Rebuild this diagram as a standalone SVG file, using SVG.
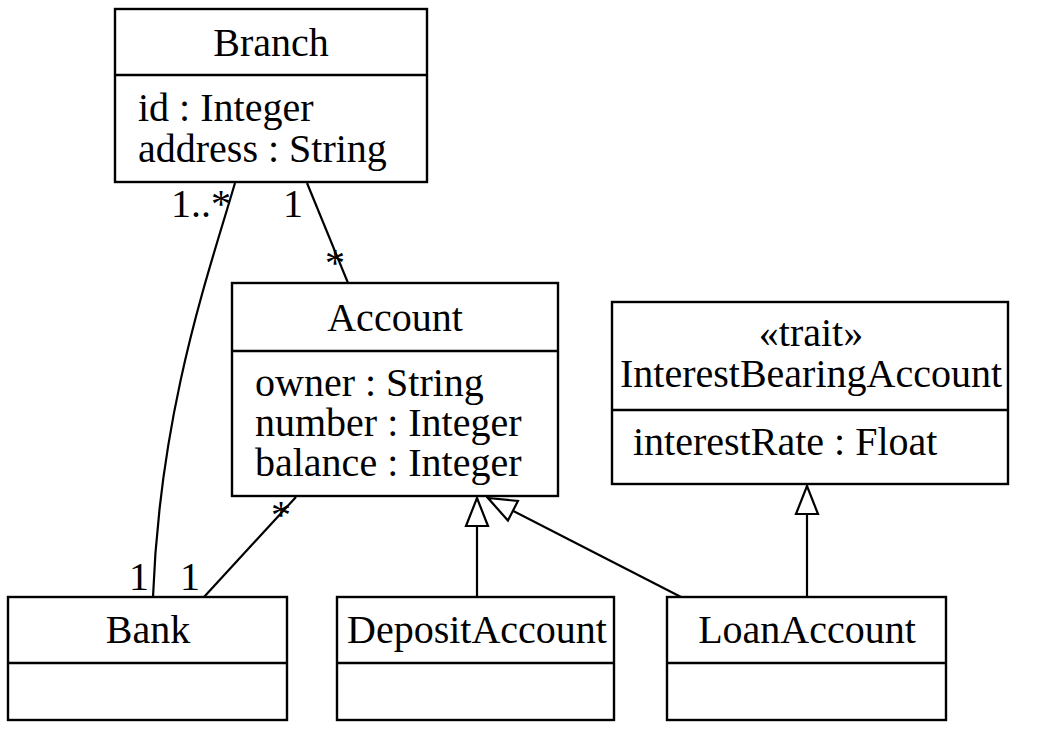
<svg xmlns="http://www.w3.org/2000/svg" width="1039" height="731" viewBox="0 0 1039 731">
<style>
text{font-family:"Liberation Serif","Times New Roman",serif;font-size:40px;fill:#000}
.c{text-anchor:middle}
.box{fill:#fff;stroke:#000;stroke-width:2.4}
.div{stroke:#000;stroke-width:2.4}
.edge{fill:none;stroke:#000;stroke-width:2.2}
</style>
<defs>
<marker id="gen" markerUnits="userSpaceOnUse" viewBox="-2 -2 32 26" markerWidth="32" markerHeight="26" refX="28" refY="11" orient="auto">
<path d="M0,0 L28,11 L0,22 Z" fill="#fff" stroke="#000" stroke-width="2.2"/>
</marker>
</defs>
<rect width="1039" height="731" fill="#fff"/>
<g id="Branch">
<rect class="box" x="115" y="9" width="312" height="173"/>
<line class="div" x1="115" y1="75" x2="427" y2="75"/>
<text class="c" x="271" y="56">Branch</text>
<text x="138" y="121">id : Integer</text>
<text x="138" y="162">address : String</text>
</g>
<g id="Account">
<rect class="box" x="232" y="283" width="326" height="213"/>
<line class="div" x1="232" y1="351" x2="558" y2="351"/>
<text class="c" x="395" y="331">Account</text>
<text x="255" y="396">owner : String</text>
<text x="255" y="436">number : Integer</text>
<text x="255" y="476">balance : Integer</text>
</g>
<g id="InterestBearingAccount">
<rect class="box" x="612" y="302" width="396" height="182"/>
<line class="div" x1="612" y1="410" x2="1008" y2="410"/>
<text class="c" x="811" y="346">«trait»</text>
<text class="c" x="811" y="387">InterestBearingAccount</text>
<text x="633" y="455">interestRate : Float</text>
</g>
<g id="Bank">
<rect class="box" x="8" y="597" width="279" height="123"/>
<line class="div" x1="8" y1="663" x2="287" y2="663"/>
<text class="c" x="148" y="643">Bank</text>
</g>
<g id="DepositAccount">
<rect class="box" x="337" y="597" width="277" height="123"/>
<line class="div" x1="337" y1="663" x2="614" y2="663"/>
<text class="c" x="477" y="643">DepositAccount</text>
</g>
<g id="LoanAccount">
<rect class="box" x="667" y="597" width="279" height="123"/>
<line class="div" x1="667" y1="663" x2="946" y2="663"/>
<text class="c" x="807" y="643">LoanAccount</text>
</g>
<g id="connectors">
<path class="edge" d="M235,183 C208,275 160,410 153,597"/>
<text x="171" y="217">1..*</text>
<text x="129" y="590">1</text>
<path class="edge" d="M307,183 L348,283"/>
<text x="283" y="217">1</text>
<text x="325" y="276">*</text>
<path class="edge" d="M296,497 L204,597"/>
<text x="271" y="528">*</text>
<text x="180" y="590">1</text>
<path class="edge" d="M477,597 L477,498" marker-end="url(#gen)"/>
<path class="edge" d="M681,597 L488,498" marker-end="url(#gen)"/>
<path class="edge" d="M807,597 L807,486" marker-end="url(#gen)"/>
</g>
</svg>
